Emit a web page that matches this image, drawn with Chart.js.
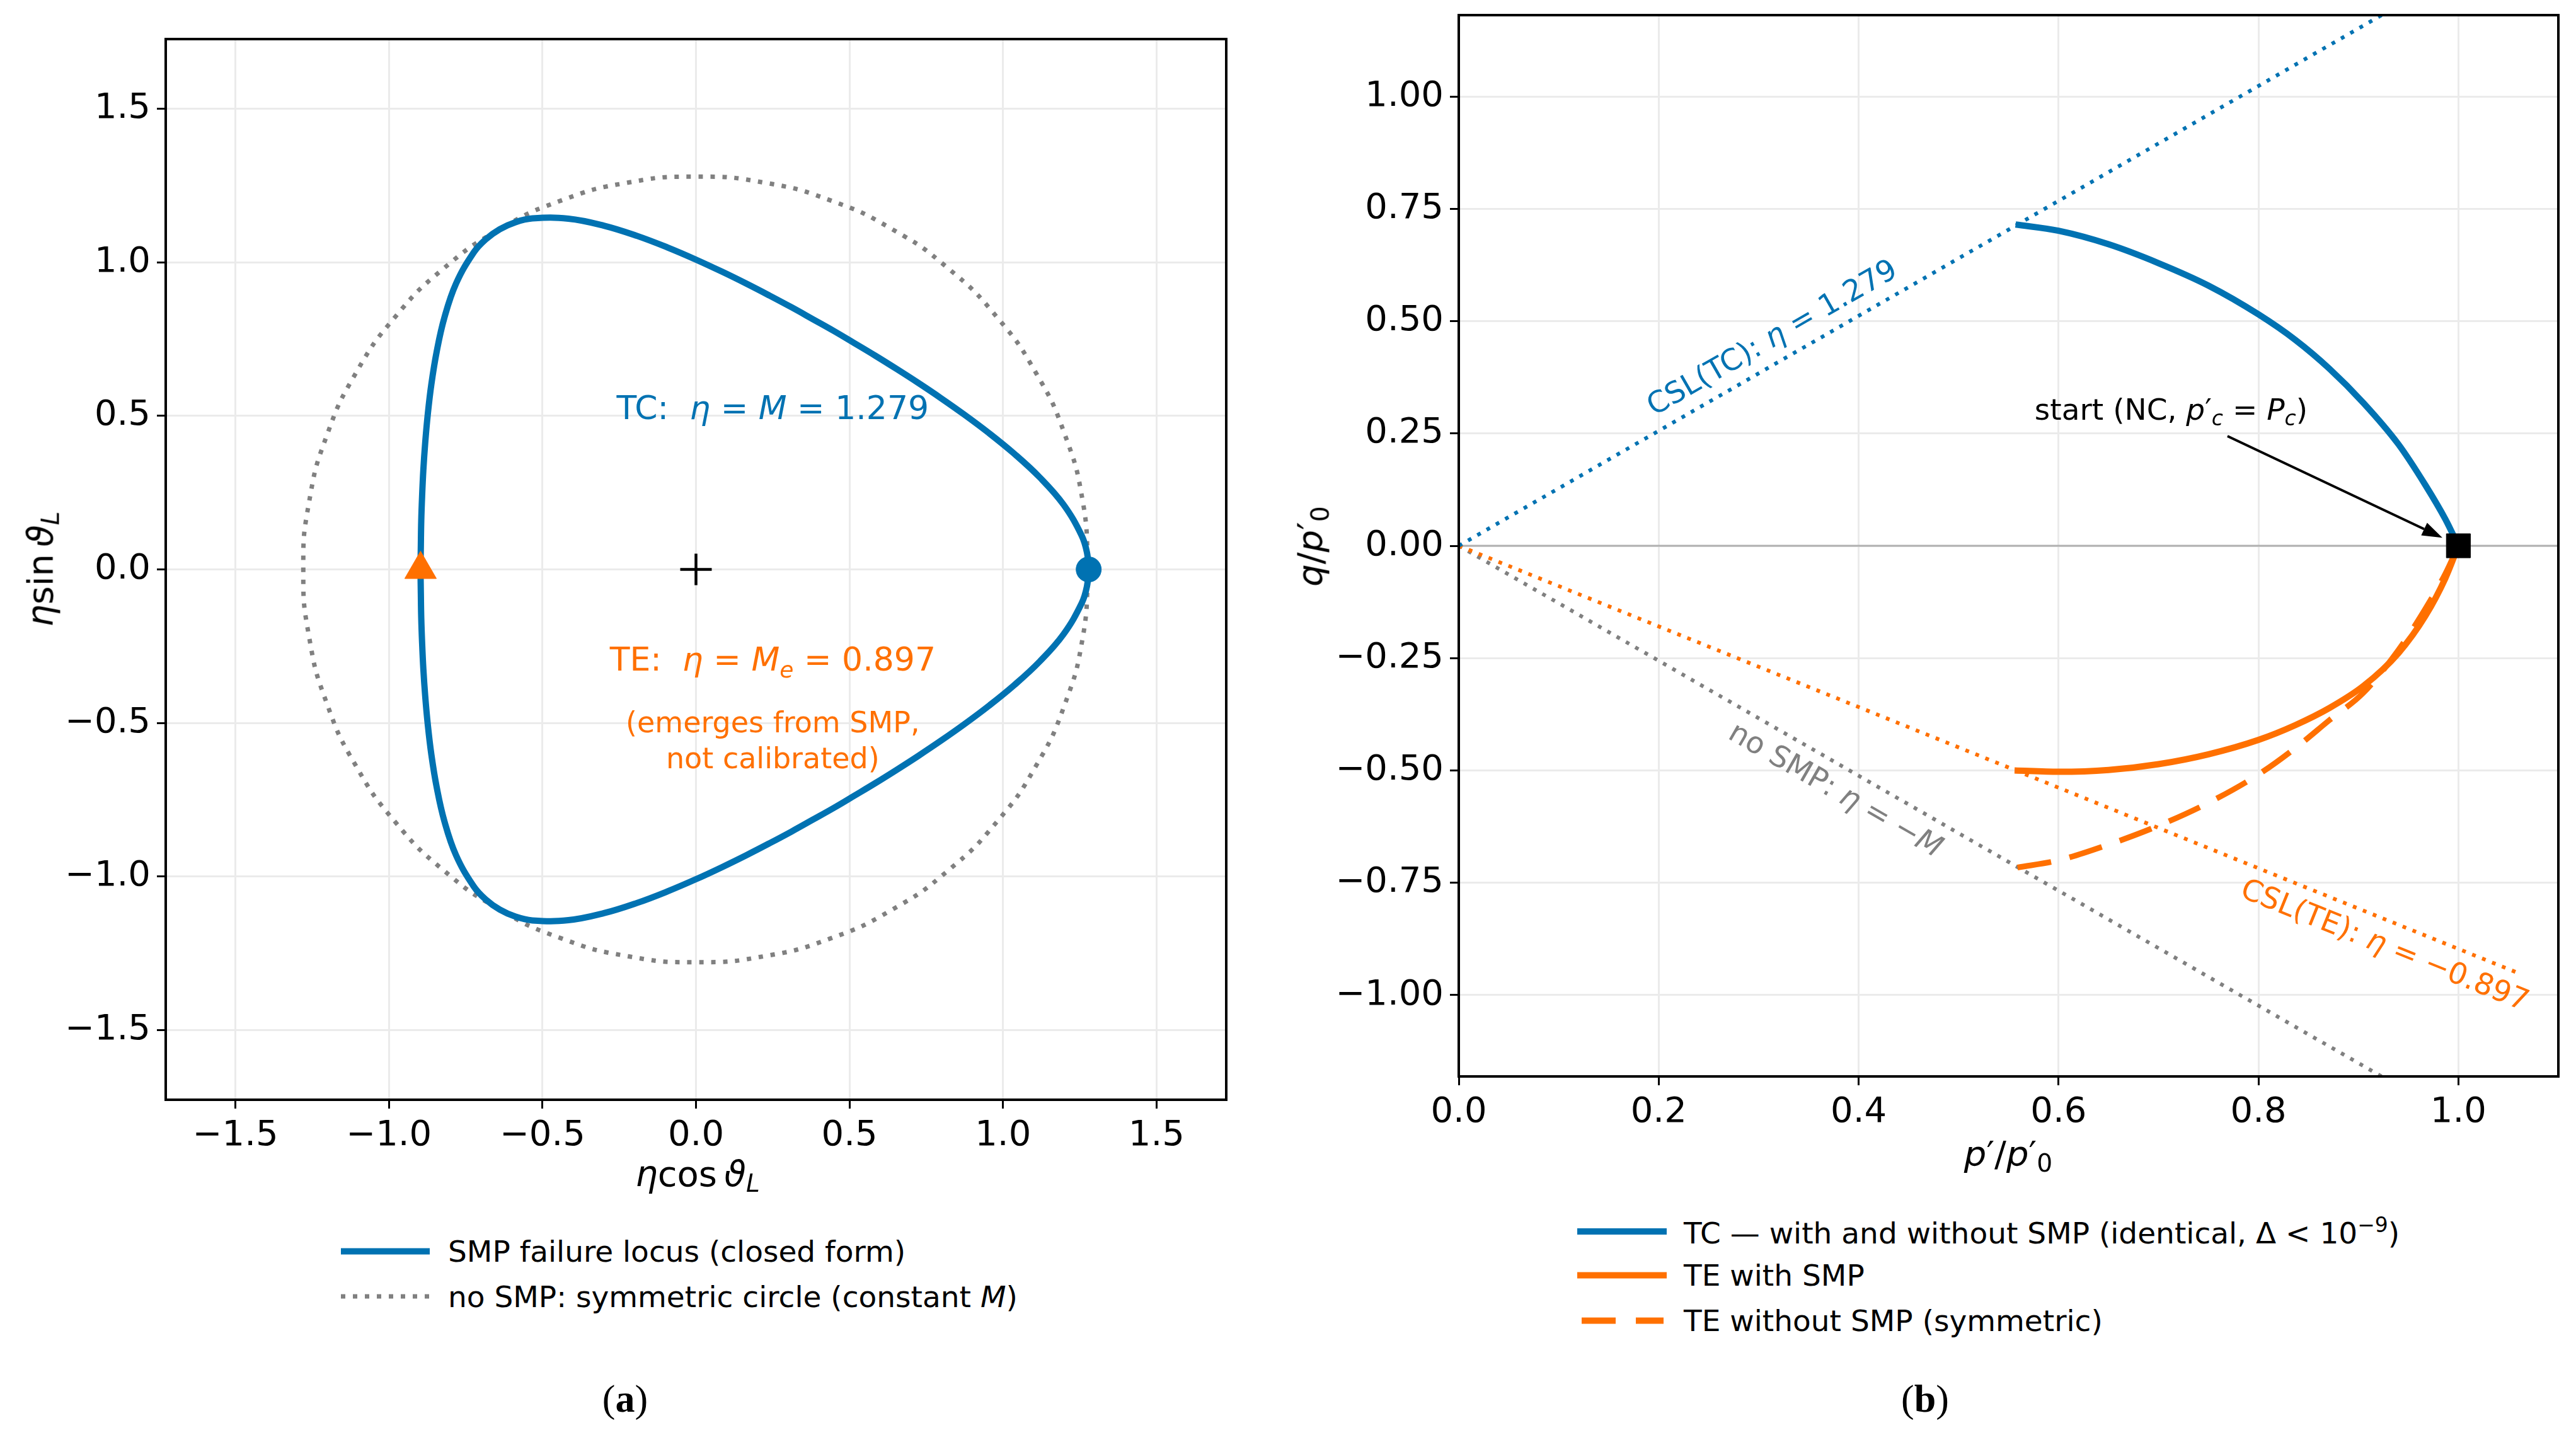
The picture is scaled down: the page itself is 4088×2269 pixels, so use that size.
<!DOCTYPE html>
<html>
<head>
<meta charset="utf-8">
<script src="https://cdn.jsdelivr.net/npm/chart.js@4.4.1/dist/chart.umd.min.js"></script>
<style>
html, body { margin: 0; padding: 0; background: #fff; }
body { width: 4088px; height: 2269px; position: relative; overflow: hidden; font-family: "DejaVu Sans", sans-serif; color: #000; }
canvas { position: absolute; }
#chartA { left: 0; top: 0; }
#chartB { left: 2044px; top: -40px; }
.lbl { position: absolute; white-space: nowrap; line-height: 1; transform: translate(-50%, -50%); }
.axt { font-size: 56px; }
.rot { transform: translate(-50%, -50%) rotate(-90deg); }
.row { position: absolute; display: flex; align-items: center; white-space: nowrap; font-size: 47px; line-height: 1; transform: translateY(-50%); }
.sw { height: 10px; flex: none; }
.panel { font-family: "Liberation Serif", serif; font-size: 62px; }
sub { font-size: 0.7em; vertical-align: -0.25em; }
sup { font-size: 0.7em; vertical-align: 0.55em; }
</style>
</head>
<body>
<canvas id="chartA" width="2044" height="1900"></canvas>
<canvas id="chartB" width="2044" height="1940"></canvas>

<!-- axis titles -->
<div class="lbl axt" style="left:1107px; top:1866px;"><i>η</i>cos&thinsp;<i>ϑ</i><sub><i>L</i></sub></div>
<div class="lbl axt rot" style="left:68px; top:903px;"><i>η</i>sin&thinsp;<i>ϑ</i><sub><i>L</i></sub></div>
<div class="lbl axt" style="left:3187px; top:1834px;"><i>p</i>′/<i>p</i>′<sub>0</sub></div>
<div class="lbl axt rot" style="left:2083px; top:867px;"><i>q</i>/<i>p</i>′<sub>0</sub></div>

<!-- legend (a) -->
<div class="row" style="left:541px; top:1985px;"><div class="sw" style="width:141px; background:#0072B2;"></div><span style="margin-left:29px;">SMP failure locus (closed form)</span></div>
<div class="row" style="left:541px; top:2057px;"><div class="sw" style="width:141px; height:7px; background:repeating-linear-gradient(to right, #808080 0 7px, transparent 7px 19px);"></div><span style="margin-left:29px;">no SMP: symmetric circle (constant <i>M</i>)</span></div>

<!-- legend (b) -->
<div class="row" style="left:2503px; top:1954px;"><div class="sw" style="width:142px; background:#0072B2;"></div><span style="margin-left:27px;">TC — with and without SMP (identical, Δ &lt; 10<sup>−9</sup>)</span></div>
<div class="row" style="left:2503px; top:2023px;"><div class="sw" style="width:142px; background:#ff7000;"></div><span style="margin-left:27px;">TE with SMP</span></div>
<div class="row" style="left:2503px; top:2095px;"><div class="sw" style="width:142px; background:linear-gradient(to right, transparent 0 7px, #ff7000 7px 61px, transparent 61px 93px, #ff7000 93px 137px, transparent 137px);"></div><span style="margin-left:27px;">TE without SMP (symmetric)</span></div>

<!-- panel labels -->
<div class="lbl panel" style="left:992px; top:2219px;">(<b>a</b>)</div>
<div class="lbl panel" style="left:3055px; top:2219px;">(<b>b</b>)</div>

<script>
// ---- panel (a): deviatoric plane ----
const xTicksA = [-1.5, -1.0, -0.5, 0.0, 0.5, 1.0, 1.5];
const yTicksA = [-1.5, -1.0, -0.5, 0.0, 0.5, 1.0, 1.5];
const limA = 1.727;

// SMP failure locus (closed curve, from the TC tip round through TE and back)
const smpX = [1.279, 1.2733, 1.2563, 1.1970, 1.1194, 1.0361, 0.9534, 0.8736, 0.7972, 0.7239, 0.6530, 0.5840, 0.5159, 0.4485,
              0.3801, 0.3108, 0.2390, 0.1641, 0.0848, 0, -0.0917, -0.1915, -0.2999, -0.4157, -0.5330, -0.5885, -0.6395,
              -0.6848, -0.7233, -0.7813, -0.8195, -0.8446, -0.8618, -0.8736, -0.8820, -0.8880, -0.8920, -0.8948, -0.8961, -0.897,
              -0.8961, -0.8948, -0.8920, -0.8880, -0.8820, -0.8736, -0.8618, -0.8446, -0.8195, -0.7813, -0.7233, -0.6848,
              -0.6395, -0.5885, -0.5330, -0.4157, -0.2999, -0.1915, -0.0917, 0, 0.0848, 0.1641, 0.2390, 0.3108, 0.3801,
              0.4485, 0.5159, 0.5840, 0.6530, 0.7239, 0.7972, 0.8736, 0.9534, 1.0361, 1.1194, 1.1970, 1.2563, 1.2733, 1.279];
const smpY = [0, 0.0556, 0.1099, 0.2111, 0.2999, 0.3771, 0.4446, 0.5044, 0.5582, 0.6074, 0.6530, 0.6960, 0.7368, 0.7768,
              0.8152, 0.8538, 0.8920, 0.9306, 0.9695, 1.0088, 1.0480, 1.0859, 1.1194, 1.1422, 1.1429, 1.1305, 1.1076,
              1.0749, 1.0330, 0.9311, 0.8195, 0.7087, 0.6034, 0.5044, 0.4113, 0.3232, 0.2390, 0.1578, 0.0784, 0,
              -0.0784, -0.1578, -0.2390, -0.3232, -0.4113, -0.5044, -0.6034, -0.7087, -0.8195, -0.9311, -1.0330, -1.0749,
              -1.1076, -1.1305, -1.1429, -1.1422, -1.1194, -1.0859, -1.0480, -1.0088, -0.9695, -0.9306, -0.8920, -0.8538, -0.8152,
              -0.7768, -0.7368, -0.6960, -0.6530, -0.6074, -0.5582, -0.5044, -0.4446, -0.3771, -0.2999, -0.2111, -0.1099, -0.0556, 0];

// no SMP: circle of radius M = 1.279
const circX = [1.279, 1.2596, 1.2019, 1.1076, 0.9798, 0.8221, 0.6395, 0.4374, 0.2221, 0, -0.2221, -0.4374, -0.6395, -0.8221, -0.9798, -1.1076, -1.2019, -1.2596, -1.279,
               -1.2596, -1.2019, -1.1076, -0.9798, -0.8221, -0.6395, -0.4374, -0.2221, 0, 0.2221, 0.4374, 0.6395, 0.8221, 0.9798, 1.1076, 1.2019, 1.2596, 1.279];
const circY = [0, 0.2221, 0.4374, 0.6395, 0.8221, 0.9798, 1.1076, 1.2019, 1.2596, 1.279, 1.2596, 1.2019, 1.1076, 0.9798, 0.8221, 0.6395, 0.4374, 0.2221, 0,
               -0.2221, -0.4374, -0.6395, -0.8221, -0.9798, -1.1076, -1.2019, -1.2596, -1.279, -1.2596, -1.2019, -1.1076, -0.9798, -0.8221, -0.6395, -0.4374, -0.2221, 0];

const tcPoint = [1.279, 0];
const tePoint = [-0.897, 0];
const centre = [0, 0];

// ---- panel (b): stress paths ----
const xTicksB = [0.0, 0.2, 0.4, 0.6, 0.8, 1.0];
const yTicksB = [-1.00, -0.75, -0.50, -0.25, 0.00, 0.25, 0.50, 0.75, 1.00];
const xMaxB = 1.1;
const yLimB = 1.181;

const tcP = [0.557, 0.6, 0.65, 0.70, 0.75, 0.80, 0.837, 0.871, 0.905, 0.94, 0.967, 0.987, 1.0];
const tcQ = [0.715, 0.701, 0.671, 0.629, 0.579, 0.515, 0.458, 0.394, 0.318, 0.226, 0.135, 0.059, 0];

const teP = [0.556, 0.6, 0.65, 0.70, 0.75, 0.80, 0.837, 0.871, 0.905, 0.94, 0.967, 0.987, 1.0];
const teQ = [-0.500, -0.503, -0.499, -0.486, -0.464, -0.432, -0.399, -0.361, -0.312, -0.239, -0.156, -0.072, 0];

const tedP = [0.559, 0.6, 0.65, 0.70, 0.75, 0.80, 0.837, 0.871, 0.905, 0.94, 0.967, 0.987, 1.0];
const tedQ = [-0.716, -0.700, -0.665, -0.623, -0.572, -0.509, -0.450, -0.388, -0.327, -0.232, -0.140, -0.062, 0];

const cslP = [0, 1.06];
const cslTcQ = [0, 1.356];
const cslTeQ = [0, -0.951];
const noSmpQ = [0, -1.356];
const zeroP = [0, 1.1];
const zeroQ = [0, 0];
const startPoint = [1.0, 0];

const BLUE = '#0072B2';
const ORANGE = '#ff7000';
const GRAY = '#808080';
const FONT = '"DejaVu Sans"';

function pts(xs, ys) {
    return xs.map((v, i) => ({ x: v, y: ys[i] }));
}

function fmt(v, dec) {
    const s = Math.abs(v).toFixed(dec);
    return v < -1e-9 ? '\u2212' + s : s;
}

// texte "math" avec italiques et indices
function segFont(kind, fs) {
    const it = kind === 'i' || kind === 'si';
    const small = kind === 'si' || kind === 'sr' || kind === 'p';
    return (it ? 'italic ' : '') + Math.round(small ? fs * 0.7 : fs) + 'px ' + FONT;
}

function drawRich(ctx, segs, x, y, fs, color, align, angle, middle) {
    ctx.save();
    ctx.translate(x, y);
    if (angle) ctx.rotate(angle);
    ctx.fillStyle = color;
    ctx.textBaseline = 'alphabetic';
    ctx.textAlign = 'left';
    let w = 0;
    segs.forEach(s => { ctx.font = segFont(s[1], fs); w += ctx.measureText(s[0]).width; });
    let cx = align === 'center' ? -w / 2 : 0;
    const base = middle ? 0.36 * fs : 0;
    segs.forEach(s => {
        ctx.font = segFont(s[1], fs);
        let dy = base;
        if (s[1] === 'si' || s[1] === 'sr') dy += 0.2 * fs;
        if (s[1] === 'p') dy -= 0.4 * fs;
        ctx.fillText(s[0], cx, dy);
        cx += ctx.measureText(s[0]).width;
    });
    ctx.restore();
}

function axis(ticks, min, max, dec, fit) {
    return {
        type: 'linear',
        min: min,
        max: max,
        afterBuildTicks: s => { s.ticks = ticks.map(v => ({ value: v })); },
        afterFit: fit,
        ticks: {
            color: '#000',
            font: { family: 'DejaVu Sans', size: 56 },
            padding: 10,
            maxRotation: 0,
            autoSkip: false,
            callback: v => fmt(v, dec)
        },
        grid: { color: '#ebebeb', lineWidth: 3, tickColor: '#000', tickLength: 14, tickWidth: 3 },
        border: { display: false }
    };
}

const framePlugin = {
    id: 'frame',
    afterDraw(chart) {
        const { ctx, chartArea: a } = chart;
        ctx.save();
        ctx.strokeStyle = '#000';
        ctx.lineWidth = 4;
        ctx.strokeRect(a.left, a.top, a.right - a.left, a.bottom - a.top);
        ctx.restore();
    }
};

const notesA = {
    id: 'notesA',
    afterDatasetsDraw(chart) {
        const { ctx } = chart;
        const x = chart.scales.x, y = chart.scales.y;
        drawRich(ctx, [['TC:  ', 'r'], ['η', 'i'], [' = ', 'r'], ['M', 'i'], [' = 1.279', 'r']],
            x.getPixelForValue(0.25), y.getPixelForValue(0.49), 52, BLUE, 'center');
        drawRich(ctx, [['TE:  ', 'r'], ['η', 'i'], [' = ', 'r'], ['M', 'i'], ['e', 'si'], [' = 0.897', 'r']],
            x.getPixelForValue(0.25), y.getPixelForValue(-0.33), 52, ORANGE, 'center');
        drawRich(ctx, [['(emerges from SMP,', 'r']],
            x.getPixelForValue(0.25), y.getPixelForValue(-0.53), 46, ORANGE, 'center');
        drawRich(ctx, [['not calibrated)', 'r']],
            x.getPixelForValue(0.25), y.getPixelForValue(-0.647), 46, ORANGE, 'center');
    }
};

const notesB = {
    id: 'notesB',
    afterDatasetsDraw(chart) {
        const { ctx } = chart;
        const x = chart.scales.x, y = chart.scales.y;
        const slopeAngle = k => Math.atan2(y.getPixelForValue(k) - y.getPixelForValue(0), x.getPixelForValue(1) - x.getPixelForValue(0));

        drawRich(ctx, [['CSL(TC): ', 'r'], ['η', 'i'], [' = 1.279', 'r']],
            x.getPixelForValue(0.3127), y.getPixelForValue(0.466), 47, BLUE, 'center', slopeAngle(1.279), true);
        drawRich(ctx, [['no SMP: ', 'r'], ['η', 'i'], [' = \u2212', 'r'], ['M', 'i']],
            x.getPixelForValue(0.3777), y.getPixelForValue(-0.5405), 47, GRAY, 'center', slopeAngle(-1.279), true);
        drawRich(ctx, [['CSL(TE): ', 'r'], ['η', 'i'], [' = \u22120.897', 'r']],
            x.getPixelForValue(0.927), y.getPixelForValue(-0.886), 47, ORANGE, 'center', slopeAngle(-0.897), true);

        drawRich(ctx, [['start (NC, ', 'r'], ['p', 'i'], ['\u2032', 'r'], ['c', 'si'], [' = ', 'r'], ['P', 'i'], ['c', 'si'], [')', 'r']],
            x.getPixelForValue(0.576), y.getPixelForValue(0.2805), 47, '#000', 'left');

        // flèche vers le point de départ
        const x0 = x.getPixelForValue(0.769), y0 = y.getPixelForValue(0.244);
        const x1 = x.getPixelForValue(0.984), y1 = y.getPixelForValue(0.018);
        const ang = Math.atan2(y1 - y0, x1 - x0);
        const hl = 32, hw = 11;
        const bx = x1 - hl * Math.cos(ang), by = y1 - hl * Math.sin(ang);
        ctx.save();
        ctx.strokeStyle = '#000';
        ctx.fillStyle = '#000';
        ctx.lineWidth = 4;
        ctx.beginPath();
        ctx.moveTo(x0, y0);
        ctx.lineTo(bx, by);
        ctx.stroke();
        ctx.beginPath();
        ctx.moveTo(x1, y1);
        ctx.lineTo(bx + hw * Math.sin(ang), by - hw * Math.cos(ang));
        ctx.lineTo(bx - hw * Math.sin(ang), by + hw * Math.cos(ang));
        ctx.closePath();
        ctx.fill();
        ctx.restore();
    }
};

function lineSet(data, color, width, dash, tension, order, mono) {
    const ds = {
        data: data,
        showLine: true,
        borderColor: color,
        backgroundColor: color,
        borderWidth: width,
        borderDash: dash || [],
        tension: tension,
        pointRadius: 0,
        fill: false,
        borderJoinStyle: 'round',
        order: order
    };
    if (mono) ds.cubicInterpolationMode = 'monotone';
    return ds;
}

function markerSet(p, style, radius, color, order, bw) {
    return {
        data: [{ x: p[0], y: p[1] }],
        showLine: false,
        pointStyle: style,
        pointRadius: radius,
        pointBackgroundColor: color,
        pointBorderColor: color,
        pointBorderWidth: bw || 1,
        order: order
    };
}

const common = {
    responsive: false,
    animation: false,
    devicePixelRatio: 1,
    events: [],
    plugins: { legend: { display: false }, tooltip: { enabled: false } }
};

function init() {
    new Chart(document.getElementById('chartA'), {
        type: 'scatter',
        data: {
            datasets: [
                markerSet(tePoint, 'triangle', 29, ORANGE, 0),
                markerSet(tcPoint, 'circle', 20, BLUE, 0),
                markerSet(centre, 'cross', 25, '#000', 0, 4.5),
                lineSet(pts(smpX, smpY), BLUE, 10, null, 0.4, 1),
                lineSet(pts(circX, circY), GRAY, 7, [7, 12], 0.5, 2)
            ]
        },
        options: Object.assign({}, common, {
            layout: { padding: { left: 0, top: 62, right: 98, bottom: 25 } },
            scales: {
                x: axis(xTicksA, -limA, limA, 1, s => { s.height = 130; }),
                y: axis(yTicksA, -limA, limA, 1, s => { s.width = 263; })
            }
        }),
        plugins: [notesA, framePlugin]
    });

    new Chart(document.getElementById('chartB'), {
        type: 'scatter',
        data: {
            datasets: [
                markerSet(startPoint, 'rect', 27, '#000', 0),
                lineSet(pts(tcP, tcQ), BLUE, 10, null, 0, 1, true),
                lineSet(pts(teP, teQ), ORANGE, 10, null, 0, 1, true),
                lineSet(pts(tedP, tedQ), ORANGE, 9, [54, 30], 0, 1, true),
                lineSet(pts(cslP, cslTcQ), BLUE, 6, [6, 11], 0, 2),
                lineSet(pts(cslP, cslTeQ), ORANGE, 6, [6, 11], 0, 2),
                lineSet(pts(cslP, noSmpQ), GRAY, 6, [6, 11], 0, 2),
                lineSet(pts(zeroP, zeroQ), '#b0b0b0', 3, null, 0, 3)
            ]
        },
        options: Object.assign({}, common, {
            layout: { padding: { left: 0, top: 64, right: 28, bottom: 62 } },
            scales: {
                x: axis(xTicksB, 0, xMaxB, 1, s => { s.height = 130; }),
                y: axis(yTicksB, -yLimB, yLimB, 2, s => { s.width = 271; })
            }
        }),
        plugins: [notesB, framePlugin]
    });
}

window.onload = init;
</script>
</body>
</html>
